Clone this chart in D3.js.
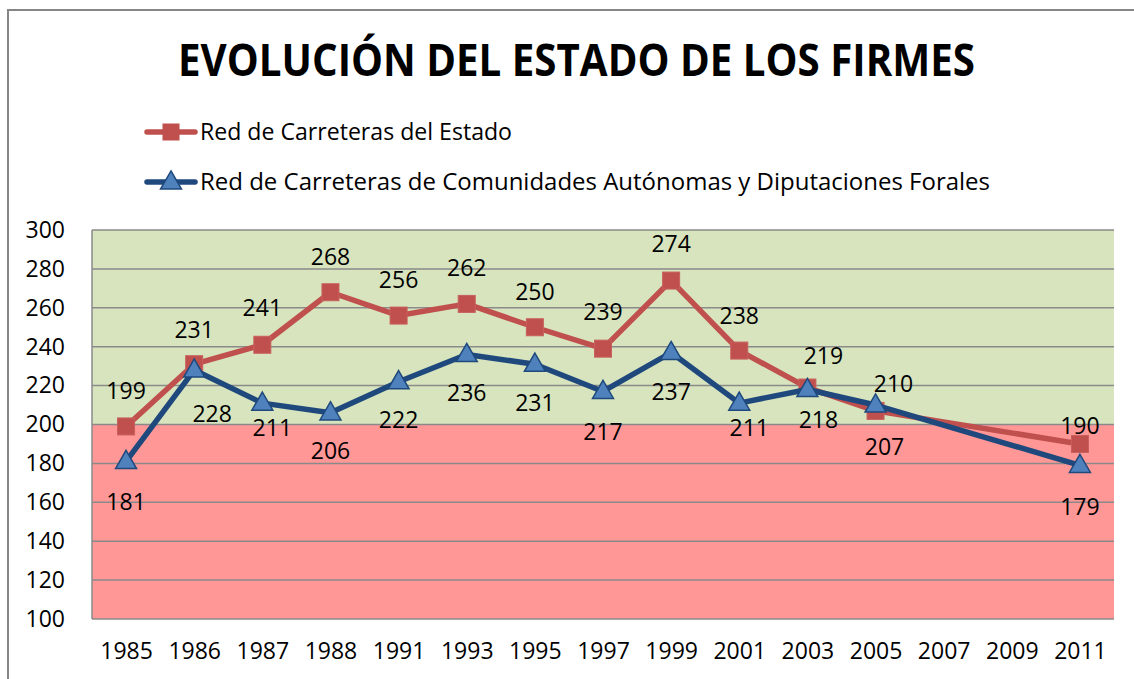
<!DOCTYPE html>
<html>
<head>
<meta charset="utf-8">
<script src="https://cdn.jsdelivr.net/npm/d3@7"></script>
<style>
  body { margin: 0; background: #fff; }
  text { font-family: "Open Sans", "DejaVu Sans", sans-serif; fill: #000; }
</style>
</head>
<body>
<div id="chart"></div>
<script>
// data
const years = ["1985", "1986", "1987", "1988", "1991", "1993", "1995", "1997", "1999", "2001", "2003", "2005", "2007", "2009", "2011"];
const estado = [199, 231, 241, 268, 256, 262, 250, 239, 274, 238, 219, 207, null, null, 190];
const autonomas = [181, 228, 211, 206, 222, 236, 231, 217, 237, 211, 218, 210, null, null, 179];
const yTicks = [100, 120, 140, 160, 180, 200, 220, 240, 260, 280, 300];
const seriesNames = ["Red de Carreteras del Estado", "Red de Carreteras de Comunidades Autónomas y Diputaciones Forales"];

// label nudges (layout only), [dx, dy] from the marker
const estadoLabelNudge = [[0,-36],[0,-34],[0,-37],[0,-36],[0,-36],[0,-36],[0,-36],[0,-37],[0,-37],[0,-35],[16,-32],[9,36],null,null,[0,-18]];
const autoLabelNudge = [[0,40],[18,44],[10,25],[0,38],[0,38],[0,38],[0,39],[0,40],[0,39],[10,25],[11,30],[18,-21],null,null,[0,41]];

function main() {
    const W = 1134, H = 679;
    const plot = {left: 92, right: 1114, top: 230, bottom: 619};

    const svg = d3.select("#chart")
        .append("svg")
        .attr("width", W)
        .attr("height", H);

    // chart outline
    svg.append("rect")
        .attr("x", 8).attr("y", 10)
        .attr("width", 1300).attr("height", 900)
        .attr("fill", "#fff")
        .attr("stroke", "#868686")
        .attr("stroke-width", 2);

    // title
    svg.append("text")
        .attr("x", 178)
        .attr("y", 76)
        .attr("font-size", 44)
        .attr("font-weight", "bold")
        .attr("textLength", 797)
        .attr("lengthAdjust", "spacingAndGlyphs")
        .text("EVOLUCIÓN DEL ESTADO DE LOS FIRMES");

    const x = d3.scalePoint()
        .domain(years)
        .range([plot.left, plot.right])
        .padding(0.5);

    const y = d3.scaleLinear()
        .domain([100, 300])
        .range([plot.bottom, plot.top]);

    // background bands
    svg.append("rect")
        .attr("x", plot.left).attr("y", y(300))
        .attr("width", plot.right - plot.left)
        .attr("height", y(200) - y(300))
        .attr("fill", "#D7E4BD");
    svg.append("rect")
        .attr("x", plot.left).attr("y", y(200))
        .attr("width", plot.right - plot.left)
        .attr("height", y(100) - y(200))
        .attr("fill", "#FF9797");

    // gridlines
    svg.append("g")
        .selectAll("line")
        .data(yTicks)
        .join("line")
        .attr("x1", plot.left).attr("x2", plot.right)
        .attr("y1", d => y(d)).attr("y2", d => y(d))
        .attr("stroke", "#8A8A8A")
        .attr("stroke-width", 1.5);

    svg.append("line")
        .attr("x1", plot.left).attr("x2", plot.left)
        .attr("y1", plot.top).attr("y2", plot.bottom)
        .attr("stroke", "#8A8A8A").attr("stroke-width", 1.5);

    // Y axis
    const yAxis = svg.append("g")
        .attr("transform", `translate(${plot.left - 27},0)`)
        .call(d3.axisLeft(y).tickValues(yTicks).tickSize(0).tickPadding(0));
    yAxis.select(".domain").remove();
    yAxis.selectAll("text")
        .attr("font-size", 23)
        .attr("font-family", "'Open Sans', sans-serif")
        .attr("fill", "#000");

    // X axis
    const xAxis = svg.append("g")
        .attr("transform", `translate(0,${plot.bottom})`)
        .call(d3.axisBottom(x).tickSize(0).tickPadding(24));
    xAxis.select(".domain").remove();
    xAxis.selectAll("text")
        .attr("font-size", 23)
        .attr("font-family", "'Open Sans', sans-serif")
        .attr("fill", "#000");

    const line = d3.line()
        .x(d => x(d.year))
        .y(d => y(d.v));

    const toPoints = vals => vals.map((v, i) => ({year: years[i], v: v, i: i})).filter(d => d.v != null);
    const pEstado = toPoints(estado);
    const pAuto = toPoints(autonomas);

    const red = "#C0504D", blue = "#1F497D", blueFill = "#4F81BD";
    const tri = d3.symbol().type(d3.symbolTriangle).size(190);

    // red line + squares
    svg.append("path")
        .datum(pEstado)
        .attr("fill", "none")
        .attr("stroke", red)
        .attr("stroke-width", 5.5)
        .attr("stroke-linejoin", "round")
        .attr("d", line);
    svg.append("g")
        .selectAll("rect")
        .data(pEstado)
        .join("rect")
        .attr("x", d => x(d.year) - 8.5)
        .attr("y", d => y(d.v) - 8.5)
        .attr("width", 17).attr("height", 17)
        .attr("fill", red)
        .attr("stroke", "#C8605D")
        .attr("stroke-width", 1);

    // blue line + triangles
    svg.append("path")
        .datum(pAuto)
        .attr("fill", "none")
        .attr("stroke", blue)
        .attr("stroke-width", 5.5)
        .attr("stroke-linejoin", "round")
        .attr("d", line);
    svg.append("g")
        .selectAll("path")
        .data(pAuto)
        .join("path")
        .attr("transform", d => `translate(${x(d.year)},${y(d.v) + 1})`)
        .attr("d", tri)
        .attr("fill", blueFill)
        .attr("stroke", blue)
        .attr("stroke-width", 1.5);

    // data labels
    function labels(pts, nudge) {
        svg.append("g")
            .selectAll("text")
            .data(pts)
            .join("text")
            .attr("x", d => x(d.year) + nudge[d.i][0])
            .attr("y", d => y(d.v) + nudge[d.i][1])
            .attr("dy", "0.36em")
            .attr("text-anchor", "middle")
            .attr("font-size", 23)
            .text(d => d.v);
    }
    labels(pEstado, estadoLabelNudge);
    labels(pAuto, autoLabelNudge);

    // legend
    const legendY = [132, 182];
    const legendW = [312, 790];
    const leg = svg.append("g");
    leg.selectAll("line")
        .data(seriesNames)
        .join("line")
        .attr("x1", 147).attr("x2", 195)
        .attr("y1", (d, i) => legendY[i]).attr("y2", (d, i) => legendY[i])
        .attr("stroke", (d, i) => i === 0 ? red : blue)
        .attr("stroke-width", 5.5)
        .attr("stroke-linecap", "round");
    leg.append("rect")
        .attr("x", 171 - 8.5).attr("y", legendY[0] - 8.5)
        .attr("width", 17).attr("height", 17)
        .attr("fill", red);
    leg.append("path")
        .attr("transform", `translate(171,${legendY[1] + 1})`)
        .attr("d", tri)
        .attr("fill", blueFill)
        .attr("stroke", blue)
        .attr("stroke-width", 1.5);
    leg.selectAll("text")
        .data(seriesNames)
        .join("text")
        .attr("x", 200)
        .attr("y", (d, i) => legendY[i])
        .attr("dy", "0.36em")
        .attr("font-size", 23)
        .attr("textLength", (d, i) => legendW[i])
        .attr("lengthAdjust", "spacingAndGlyphs")
        .text(d => d);
}

main()
</script>
</body>
</html>
